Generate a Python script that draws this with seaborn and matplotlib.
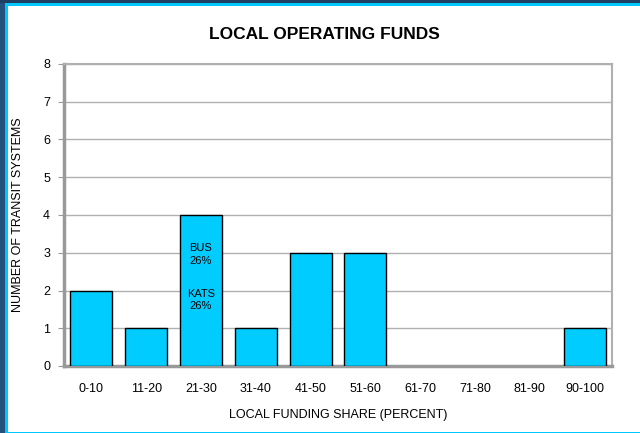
import matplotlib
matplotlib.use("Agg")
import matplotlib.pyplot as plt
import seaborn as sns
import pandas as pd
from matplotlib.patches import Rectangle

# === Данные ===
share_bins = ["0-10", "11-20", "21-30", "31-40", "41-50",
              "51-60", "61-70", "71-80", "81-90", "90-100"]
system_counts = [2, 1, 4, 1, 3, 3, 0, 0, 0, 1]
y_ticks = [0, 1, 2, 3, 4, 5, 6, 7, 8]

df = pd.DataFrame({"share": share_bins, "count": system_counts})

sns.set_style("white")
plt.rcParams['font.family'] = ['Liberation Sans', 'DejaVu Sans']
plt.rcParams['text.color'] = 'black'
plt.rcParams['axes.labelcolor'] = 'black'
plt.rcParams['xtick.color'] = 'black'
plt.rcParams['ytick.color'] = 'black'

fig = plt.figure(figsize=(6.4, 4.33), dpi=100)
fig.patch.set_facecolor("#1f3f62")

# белая панель с голубой рамкой
fig.patches.append(Rectangle((0, 0), 1, 1, transform=fig.transFigure,
                             facecolor="#00c8ff", edgecolor="none", zorder=-2))
fig.patches.append(Rectangle((8 / 640, 1 / 433), 1, 1 - 7 / 433, transform=fig.transFigure,
                             facecolor="white", edgecolor="none", zorder=-1))
fig.patches.append(Rectangle((0, 0), 5 / 640, 1, transform=fig.transFigure,
                             facecolor="#24507e", edgecolor="none", zorder=-1))
fig.patches.append(Rectangle((0, 1 - 3 / 433), 1, 3 / 433, transform=fig.transFigure,
                             facecolor="#1f3f62", edgecolor="none", zorder=-1))

ax = fig.add_axes([64 / 640, 67 / 433, 548 / 640, 302 / 433])
ax.set_facecolor("white")

sns.barplot(data=df, x="share", y="count", color="#00ccff", saturation=1,
            width=0.77, edgecolor="black", linewidth=1, ax=ax, zorder=3)

# у нулевых столбцов не рисуем контур
for bar, n in zip(ax.patches, system_counts):
    if n == 0:
        bar.set_edgecolor("none")

ax.set_ylim(0, 8)
ax.set_yticks(y_ticks)
ax.set_xlim(-0.5, len(share_bins) - 0.5)
ax.yaxis.grid(True, color="#b0b0b0", linewidth=1, zorder=0)
ax.set_axisbelow(True)

for side in ["left", "bottom"]:
    ax.spines[side].set_color("#999999")
    ax.spines[side].set_linewidth(2.5)
for side in ["top", "right"]:
    ax.spines[side].set_color("#b0b0b0")
    ax.spines[side].set_linewidth(1.5)

ax.tick_params(axis="y", labelsize=9, length=4, color="#999999",
               labelcolor="black", left=True, pad=6)
ax.tick_params(axis="x", labelsize=9, length=0, labelcolor="black", pad=12)

ax.set_xlabel("LOCAL FUNDING SHARE (PERCENT)", fontsize=9, labelpad=10)
ax.set_ylabel("NUMBER OF TRANSIT SYSTEMS", fontsize=9, labelpad=14)
ax.set_title("LOCAL OPERATING FUNDS", fontsize=12.5, fontweight="bold",
             pad=18, x=0.476)

# подписи внутри столбца 21-30
ax.text(2, 2.95, "BUS\n26%", ha="center", va="center", fontsize=8,
        linespacing=1.3, zorder=5)
ax.text(2, 1.75, "KATS\n26%", ha="center", va="center", fontsize=8,
        linespacing=1.3, zorder=5)

fig.savefig("out.png", dpi=100, facecolor=fig.get_facecolor())
